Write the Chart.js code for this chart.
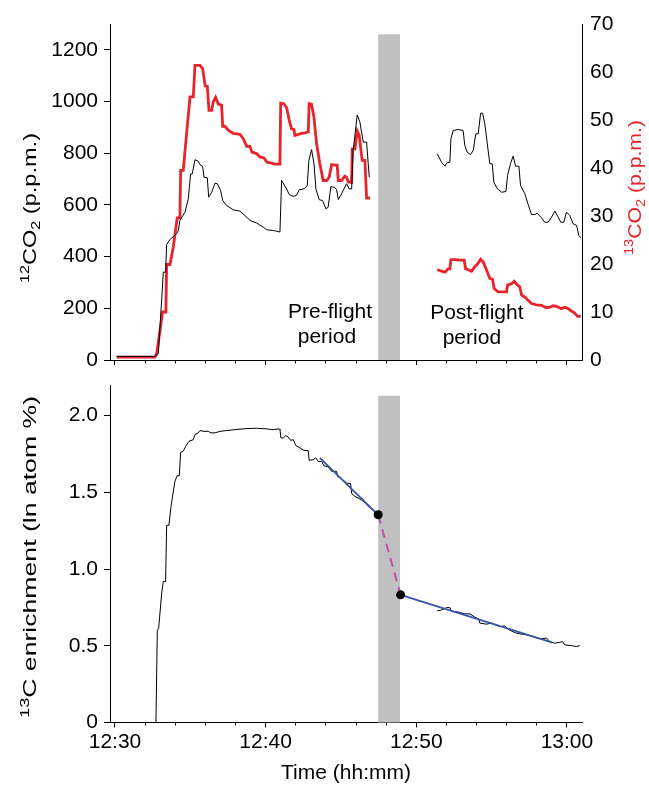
<!DOCTYPE html>
<html><head><meta charset="utf-8">
<script src="https://cdn.jsdelivr.net/npm/chart.js@4.4.1/dist/chart.umd.min.js"></script>
<style>
html,body{margin:0;padding:0;background:#fff;width:649px;height:786px;overflow:hidden;}
#top{position:absolute;left:0;top:0;}
#bot{position:absolute;left:0;top:380px;}
</style></head><body>
<canvas id="top" width="649" height="380"></canvas>
<canvas id="bot" width="649" height="406"></canvas>
<script>
// ---------- DATA (time in minutes after 12:30) ----------
const timeTicks = [0,2,4,6,8,10,12,14,16,18,20,22,24,26,28,30];
const timeLabelMinutes = [0,10,20,30];
const timeLabelText = ['12:30','12:40','12:50','13:00'];
const co2Ticks = [0,200,400,600,800,1000,1200];
const c13Ticks = [0,10,20,30,40,50,60,70];
const enrichTicks = [0,0.5,1.0,1.5,2.0];

// 12CO2 (p.p.m.), black, left axis
const time12Pre = [0.11,2.65,2.88,3.21,3.36,3.43,3.65,4.09,4.20,4.31,4.65,4.87,5.02,5.13,5.31,5.53,5.64,5.82,5.91,6.13,6.22,6.42,6.64,6.79,7.01,7.15,7.41,7.85,8.29,8.63,8.96,9.40,9.84,10.07,10.51,10.84,10.95,11.06,11.13,11.39,11.57,11.83,12.05,12.23,12.54,12.76,12.87,13.05,13.21,13.34,13.56,13.78,14.00,14.15,14.33,14.45,14.55,14.71,14.82,15.04,15.37,15.55,15.71,15.81,16.08,16.26,16.48,16.70,16.88];
const co2Pre12 = [14,14,25,340,340,447,466,489,499,540,572,624,720,720,775,769,756,749,707,705,630,649,684,682,656,617,598,581,576,559,540,530,514,504,501,497,495,695,688,662,640,633,637,659,662,673,772,814,759,662,620,617,585,591,671,669,669,660,621,643,682,662,662,810,948,920,843,843,707];
const time12Post = [21.39,21.68,21.90,22.07,22.23,22.30,22.45,22.78,23.11,23.22,23.38,23.60,23.78,23.95,24.11,24.27,24.40,24.55,24.70,24.88,25.04,25.15,25.37,25.66,25.95,26.06,26.26,26.43,26.59,26.81,26.92,27.21,27.43,27.65,27.87,28.02,28.31,28.53,28.75,28.98,29.20,29.42,29.59,29.79,29.97,30.19,30.41,30.64,30.79,30.92];
const co2Post12 = [798,765,750,765,765,856,888,892,888,830,804,795,811,875,875,955,955,914,843,759,759,688,663,649,652,714,761,789,750,750,675,643,601,563,563,568,550,533,533,553,576,553,533,533,572,559,527,521,482,473];

// 13CO2 (p.p.m.), red, right axis
const time13Pre = [0.11,2.65,2.77,3.16,3.38,3.43,3.65,3.87,4.13,4.31,4.36,4.53,4.98,5.20,5.31,5.64,5.82,5.99,6.13,6.24,6.42,6.52,6.68,6.86,7.08,7.15,7.30,7.52,7.85,8.29,8.52,8.74,8.96,9.09,9.40,9.62,9.89,10.07,10.40,10.62,10.95,11.00,11.21,11.39,11.57,11.72,11.88,11.94,12.17,12.39,12.61,12.83,12.89,13.05,13.21,13.38,13.60,13.82,14.05,14.22,14.38,14.60,14.75,14.82,15.04,15.26,15.37,15.48,15.71,15.75,15.93,16.08,16.21,16.41,16.59,16.70,16.92];
const co2Pre13 = [0.6,0.6,1.3,10.0,10.0,19.9,19.9,23.5,29.6,29.6,39.5,39.5,54.8,54.8,61.4,61.4,60.7,57.1,57.0,52.0,52.0,53.75,54.7,53.3,53.1,48.7,48.7,47.9,47.2,47.0,46.1,44.5,44.5,43.3,43.0,42.3,42.1,41.25,41.0,40.8,40.8,53.5,53.4,52.6,49.9,48.2,48.0,46.8,47.0,47.2,47.3,47.5,53.4,53.3,50.6,45.1,40.9,37.4,37.4,38.1,40.7,40.6,40.6,37.4,37.4,38.3,38.1,37.1,37.0,44.0,44.0,47.7,46.8,41.6,41.6,33.75,33.75];
const time13Post = [21.39,21.68,21.90,22.12,22.23,22.30,22.56,22.89,23.18,23.27,23.44,23.67,23.89,24.04,24.27,24.44,24.66,24.88,25.06,25.17,25.43,25.77,25.99,26.06,26.32,26.50,26.66,26.87,26.99,27.25,27.43,27.65,27.98,28.31,28.65,28.86,29.08,29.31,29.64,29.86,30.08,30.30,30.52,30.70,30.92];
const co2Post13 = [18.8,18.5,18.3,19.0,19.0,20.9,20.9,20.8,20.8,19.0,18.8,18.5,19.5,19.9,21.0,20.4,18.8,17.0,16.8,14.9,14.2,14.2,14.2,15.6,15.9,16.4,15.8,15.2,13.5,13.0,12.4,11.75,11.5,11.4,10.9,11.0,11.3,11.2,10.7,11.0,10.7,10.2,9.8,9.1,9.1];

// 13C enrichment (ln atom %)
const timeEnrPre = [2.72,2.81,2.90,3.10,3.21,3.36,3.43,3.58,3.72,3.98,4.13,4.27,4.36,4.53,4.69,4.91,5.20,5.31,5.53,5.64,5.91,6.19,6.37,6.64,6.97,7.41,7.96,8.74,9.40,10.07,10.50,10.90,10.95,11.02,11.17,11.33,11.50,11.66,11.83,12.01,12.28,12.54,12.83,12.89,13.16,13.32,13.49,13.72,13.87,14.15,14.38,14.71,14.78,15.11,15.37,15.64,15.71,15.93,16.26,16.59,16.81,17.10];
const enrPre = [0.0,0.60,0.615,0.843,0.919,0.919,1.285,1.285,1.409,1.572,1.609,1.609,1.761,1.768,1.80,1.833,1.844,1.877,1.888,1.903,1.898,1.898,1.888,1.888,1.898,1.903,1.909,1.916,1.918,1.914,1.909,1.914,1.909,1.855,1.855,1.870,1.861,1.839,1.844,1.805,1.790,1.774,1.772,1.709,1.713,1.725,1.702,1.702,1.674,1.666,1.637,1.637,1.604,1.583,1.561,1.557,1.492,1.474,1.457,1.435,1.409,1.387];
const timeEnrPost = [21.39,21.68,22.01,22.23,22.34,22.67,23.22,23.56,23.89,24.15,24.22,24.66,25.00,25.55,25.88,26.10,26.54,26.87,27.32,27.76,28.20,28.65,28.86,29.20,29.53,29.71,29.86,30.30,30.64,30.86];
const enrPost = [0.728,0.734,0.749,0.749,0.723,0.723,0.708,0.708,0.687,0.674,0.648,0.641,0.648,0.625,0.630,0.608,0.586,0.578,0.571,0.560,0.545,0.550,0.527,0.517,0.523,0.527,0.506,0.501,0.495,0.501];

// fitted lines and flight interpolation
const fitPreTime = [13.6, 17.47];
const fitPreValue = [1.725, 1.354];
const fitPostTime = [18.96, 29.04];
const fitPostValue = [0.832, 0.521];
const flightTime = [17.47, 18.96];
const flightValue = [1.354, 0.832];

// flight period band and annotations
const flightBand = [17.47, 18.92];
const bandTopCO2 = 1260;
const bandTopEnr = 2.13;
const noteText = ['Pre-flight','period','Post-flight','period'];
const noteTime = [14.28, 14.07, 24.02, 23.69];
const noteLevel = [186, 89, 180, 84];

// ---------- STYLE / SETUP ----------
const FAMILY = '"Liberation Sans", Arial, Helvetica, sans-serif';
const RED = '#e8242b';
Chart.defaults.font.family = FAMILY;
Chart.defaults.font.size = 21;
Chart.defaults.color = '#000';
const X_MIN = -0.33, X_MAX = 31.0;

function pts(xs, ys){ return xs.map((x,i)=>({x:x, y:ys[i]})); }
function setTicks(list){ return s => { s.ticks = list.map(v => ({value:v})); }; }

function drawRich(ctx, segs, cx, cy, len, color){
  const base = 19, small = 13;
  ctx.save();
  let w = 0;
  const parts = segs.map(s => {
    const f = s[1] === 'n' ? base : small;
    ctx.font = f + 'px ' + FAMILY;
    const m = ctx.measureText(s[0]).width;
    w += m;
    return {t:s[0], k:s[1], f:f, m:m};
  });
  ctx.translate(cx, cy);
  ctx.rotate(-Math.PI/2);
  ctx.scale(len / w, 1);
  ctx.fillStyle = color;
  ctx.textBaseline = 'alphabetic';
  ctx.textAlign = 'left';
  let x = -w/2;
  const bl = base * 0.26;
  parts.forEach(p => {
    ctx.font = p.f + 'px ' + FAMILY;
    const dy = p.k === 'sup' ? -7.5 : (p.k === 'sub' ? 4 : 0);
    ctx.fillText(p.t, x, bl + dy);
    x += p.m;
  });
  ctx.restore();
}

const bandPlugin = {
  id: 'band',
  beforeDatasetsDraw(chart, args, opts){
    const ctx = chart.ctx, ca = chart.chartArea;
    const xs = chart.scales.x, ys = chart.scales.y;
    const x0 = xs.getPixelForValue(flightBand[0]);
    const x1 = xs.getPixelForValue(flightBand[1]);
    const y0 = ys.getPixelForValue(opts.top);
    ctx.save();
    ctx.fillStyle = '#c0c0c0';
    ctx.fillRect(x0, y0, x1 - x0, ca.bottom - y0);
    ctx.restore();
  }
};

const textPlugin = {
  id: 'texts',
  afterDraw(chart, args, opts){
    const ctx = chart.ctx;
    (opts.titles || []).forEach(t => drawRich(ctx, t.segs, t.x, t.y, t.len, t.color));
    if (opts.notes) {
      const xs = chart.scales.x, ys = chart.scales.y;
      ctx.save();
      ctx.font = '21px ' + FAMILY;
      ctx.fillStyle = '#000';
      ctx.textAlign = 'center';
      ctx.textBaseline = 'middle';
      noteText.forEach((t,i) => ctx.fillText(t, xs.getPixelForValue(noteTime[i]), ys.getPixelForValue(noteLevel[i])));
      ctx.restore();
    }
  }
};

const minorDash = ctx => (timeLabelMinutes.includes(ctx.tick && ctx.tick.value) ? [] : [2.5, 20]);

function xScale(showLabels, height){
  return {
    type: 'linear', position: 'bottom', min: X_MIN, max: X_MAX,
    afterBuildTicks: setTicks(timeTicks),
    afterFit: s => { s.height = height; s.paddingLeft = 0; s.paddingRight = 0; },
    grid: { drawOnChartArea: false, drawTicks: true, tickLength: 5, tickColor: '#000', tickWidth: 1, tickBorderDash: minorDash },
    border: { display: true, color: '#000', width: 1 },
    ticks: {
      display: showLabels, autoSkip: false, maxRotation: 0, padding: 2, color: '#000',
      callback: v => { const i = timeLabelMinutes.indexOf(v); return i >= 0 ? timeLabelText[i] : ''; }
    },
    title: { display: showLabels, text: 'Time (hh:mm)', color: '#000', font: { size: 21 }, padding: { top: 0, bottom: 0 } }
  };
}

const lineDs = (data, color, width, axis, extra) => Object.assign({
  data: data, borderColor: color, backgroundColor: color, borderWidth: width,
  pointRadius: 0, tension: 0, fill: false, yAxisID: axis
}, extra || {});

// ---------- TOP CHART ----------
new Chart(document.getElementById('top'), {
  type: 'line',
  data: { datasets: [
    lineDs(pts(time12Pre, co2Pre12), '#000', 1, 'y'),
    lineDs(pts(time12Post, co2Post12), '#000', 1, 'y'),
    lineDs(pts(time13Pre, co2Pre13), RED, 2.8, 'y2'),
    lineDs(pts(time13Post, co2Post13), RED, 2.8, 'y2')
  ]},
  plugins: [bandPlugin, textPlugin],
  options: {
    responsive: false, animation: false, events: [],
    layout: { padding: { top: 24, left: 0, right: 0, bottom: 0 } },
    plugins: {
      legend: { display: false }, tooltip: { enabled: false },
      band: { top: bandTopCO2 },
      texts: {
        notes: true,
        titles: [
          { segs: [['12','sup'],['CO','n'],['2','sub'],[' (p.p.m.)','n']], x: 31.5, y: 208, len: 150, color: '#000' },
          { segs: [['13','sup'],['CO','n'],['2','sub'],[' (p.p.m.)','n']], x: 636, y: 187.5, len: 135, color: RED }
        ]
      }
    },
    scales: {
      x: xScale(false, 20),
      y: {
        type: 'linear', position: 'left', min: 0, max: 1300,
        afterBuildTicks: setTicks(co2Ticks),
        afterFit: s => { s.width = 110; s.paddingTop = 0; s.paddingBottom = 0; },
        grid: { drawOnChartArea: false, tickLength: 6, tickColor: '#000' },
        border: { color: '#000', width: 1 },
        ticks: { padding: 6, color: '#000', callback: v => String(v) }
      },
      y2: {
        type: 'linear', position: 'right', min: 0, max: 70,
        afterBuildTicks: setTicks(c13Ticks),
        afterFit: s => { s.width = 67; s.paddingTop = 0; s.paddingBottom = 0; },
        grid: { drawOnChartArea: false, drawTicks: false },
        border: { color: '#000', width: 1 },
        ticks: { padding: 8, color: '#000', callback: v => String(v) }
      }
    }
  }
});

// ---------- BOTTOM CHART ----------
new Chart(document.getElementById('bot'), {
  type: 'line',
  data: { datasets: [
    lineDs(pts(flightTime, flightValue), '#000', 0, 'y', { showLine: false, pointRadius: 4.5, pointBackgroundColor: '#000', pointBorderWidth: 0 }),
    lineDs(pts(flightTime, flightValue), '#bf4fae', 2, 'y', { borderDash: [9, 6] }),
    lineDs(pts(fitPreTime, fitPreValue), '#3556a8', 1.8, 'y'),
    lineDs(pts(fitPostTime, fitPostValue), '#3556a8', 1.8, 'y'),
    lineDs(pts(timeEnrPre, enrPre), '#000', 1, 'y'),
    lineDs(pts(timeEnrPost, enrPost), '#000', 1, 'y')
  ]},
  plugins: [bandPlugin, textPlugin],
  options: {
    responsive: false, animation: false, events: [],
    layout: { padding: { top: 5, left: 0, right: 67, bottom: 0 } },
    plugins: {
      legend: { display: false }, tooltip: { enabled: false },
      band: { top: bandTopEnr },
      texts: {
        titles: [
          { segs: [['13','sup'],['C enrichment (ln atom %)','n']], x: 31.5, y: 177, len: 322, color: '#000' }
        ]
      }
    },
    scales: {
      x: xScale(true, 63.5),
      y: {
        type: 'linear', position: 'left', min: 0, max: 2.2,
        afterBuildTicks: setTicks(enrichTicks),
        afterFit: s => { s.width = 110; s.paddingTop = 0; s.paddingBottom = 0; },
        grid: { drawOnChartArea: false, tickLength: 6, tickColor: '#000' },
        border: { color: '#000', width: 1 },
        ticks: { padding: 6, color: '#000', callback: v => (v === 0 ? '0' : v.toFixed(1)) }
      }
    }
  }
});
</script>
</body></html>
